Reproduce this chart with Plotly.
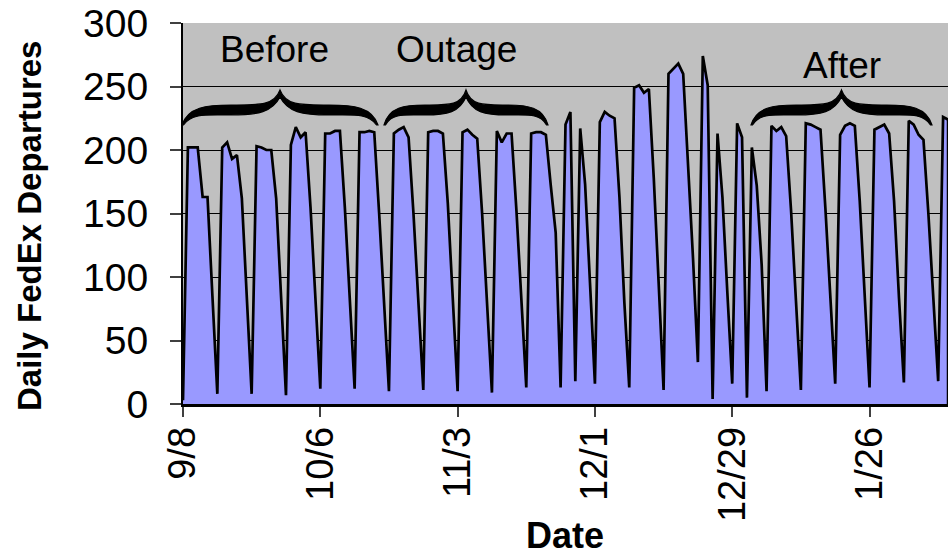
import pandas as pd
import plotly.graph_objects as go

# ---- data ----
start_date = "2002-09-08"
departures = [
    3, 202, 202, 202, 163, 163, 85,
    8, 202, 206, 193, 196, 162, 85,
    8, 203, 202, 200, 200, 162, 84,
    7, 204, 218, 210, 214, 155, 80,
    12, 213, 213, 215, 215, 155, 80,
    12, 214, 214, 215, 214, 150, 80,
    10, 213, 216, 218, 210, 150, 80,
    11, 214, 215, 215, 213, 158, 85,
    10, 214, 216, 212, 209, 150, 78,
    9, 215, 206, 213, 213, 152, 80,
    13, 213, 214, 214, 212, 172, 135,
    13, 220, 230, 18, 217, 173, 95,
    16, 222, 230, 227, 225, 163, 80,
    13, 249, 251, 245, 248, 178, 95,
    11, 260, 264, 268, 260, 188, 115,
    33, 274, 251, 4, 213, 163, 88,
    16, 221, 210, 5, 202, 172, 110,
    10, 219, 215, 218, 211, 152, 81,
    11, 221, 220, 218, 216, 154, 81,
    16, 212, 219, 221, 219, 160, 84,
    13, 216, 218, 220, 213, 160, 84,
    17, 223, 220, 212, 208, 150, 80,
    18, 226, 224,
]
dates = pd.date_range(start_date, periods=len(departures), freq="D")
y_ticks = [0, 50, 100, 150, 200, 250, 300]
periods = ["Before", "Outage", "After"]

# ---- layout geometry (pixels) ----
W, H = 949, 557
L, R, T, B = 183, 1, 23, 153
PW, PH = W - L - R, H - T - B


def px(x):
    return (x - L) / PW


def py(y):
    return (H - B - y) / PH


def brace_path(x0, x1, yb, ya, yt, th):
    xm = (x0 + x1) / 2.0
    w = xm - x0

    def P(x, y):
        return f"{px(x):.5f},{py(y):.5f}"

    d = "M " + P(x0, yb)
    d += " C " + P(x0 + 0.06 * w, ya - th * 0.3) + " " + P(x0 + 0.25 * w, ya - th / 2) + " " + P(x0 + 0.5 * w, ya - th / 2)
    d += " C " + P(x0 + 0.78 * w, ya - th / 2) + " " + P(xm - 0.06 * w, ya - th * 0.4) + " " + P(xm, yt)
    d += " C " + P(xm + 0.06 * w, ya - th * 0.4) + " " + P(xm + 0.22 * w, ya - th / 2) + " " + P(xm + 0.5 * w, ya - th / 2)
    d += " C " + P(xm + 0.75 * w, ya - th / 2) + " " + P(x1 - 0.06 * w, ya - th * 0.3) + " " + P(x1, yb)
    d += " L " + P(x1 - 1.5, yb)
    d += " C " + P(x1 - 0.1 * w, ya + th * 0.3) + " " + P(xm + 0.75 * w, ya + th / 2) + " " + P(xm + 0.5 * w, ya + th / 2)
    d += " C " + P(xm + 0.22 * w, ya + th / 2) + " " + P(xm + 0.08 * w, ya + th * 0.2) + " " + P(xm, yt + th * 0.7)
    d += " C " + P(xm - 0.08 * w, ya + th * 0.2) + " " + P(xm - 0.22 * w, ya + th / 2) + " " + P(xm - 0.5 * w, ya + th / 2)
    d += " C " + P(x0 + 0.25 * w, ya + th / 2) + " " + P(x0 + 0.1 * w, ya + th * 0.3) + " " + P(x0 + 1.5, yb)
    d += " Z"
    return d


fig = go.Figure()
fig.add_trace(go.Scatter(
    x=dates, y=departures, mode="lines", fill="tozeroy",
    fillcolor="#9999FF", line=dict(color="black", width=2.7),
    hoverinfo="skip", showlegend=False,
))
# Excel-style closing edge of the area at the last point
fig.add_trace(go.Scatter(
    x=[dates[-1], dates[-1]], y=[0, departures[-1]], mode="lines",
    line=dict(color="black", width=2.5), cliponaxis=False,
    hoverinfo="skip", showlegend=False,
))

font_main = "Liberation Sans, Arial, sans-serif"

fig.update_layout(
    width=W, height=H,
    margin=dict(l=L, r=R, t=T, b=B, pad=0, autoexpand=False),
    paper_bgcolor="white",
    plot_bgcolor="#C0C0C0",
    font=dict(family=font_main, color="black", size=37),
    showlegend=False,
)
fig.update_xaxes(
    type="date", automargin=False,
    range=[dates[0], dates[-1]],
    tick0=dates[0], dtick=28 * 86400000, tickformat="%-m/%-d",
    tickangle=-90, ticks="outside", ticklen=10, tickwidth=1.5, tickcolor="#404040",
    tickfont=dict(size=38, family=font_main),
    ticklabelstandoff=-5,
    showgrid=False, showline=True, linecolor="black", linewidth=2.5,
    zeroline=False,
)
fig.update_yaxes(
    automargin=False,
    range=[0, 300], tickvals=y_ticks,
    ticks="outside", ticklen=11, tickwidth=1.5, tickcolor="#404040",
    tickfont=dict(size=39, family=font_main),
    ticklabelstandoff=14,
    showgrid=True, gridcolor="black", gridwidth=1,
    showline=True, linecolor="black", linewidth=2, zeroline=False,
)

annotations = [
    dict(text="Daily FedEx Departures", x=px(29), y=py(226), textangle=-90,
         font=dict(size=33, family=font_main, weight="bold")),
    dict(text="Date", x=px(565), y=py(535),
         font=dict(size=36, family=font_main, weight="bold")),
    dict(text=periods[0], x=px(274), y=py(50), font=dict(size=37, family=font_main)),
    dict(text=periods[1], x=px(456), y=py(50), font=dict(size=37, family=font_main)),
    dict(text=periods[2], x=px(842), y=py(65), font=dict(size=37, family=font_main)),
]
for a in annotations:
    a.update(xref="paper", yref="paper", showarrow=False, xanchor="center", yanchor="middle")
fig.update_layout(annotations=annotations)

braces = [(182, 378), (384, 548), (751, 932)]
shapes = []
for x0, x1 in braces:
    shapes.append(dict(type="path", xref="paper", yref="paper",
                       path=brace_path(x0, x1, 125, 110, 90, 10),
                       fillcolor="black", line=dict(color="black", width=1.2)))
fig.update_layout(shapes=shapes)

fig.write_html("out.html", config={"displayModeBar": False},
               post_script="document.body.style.margin='0';")
